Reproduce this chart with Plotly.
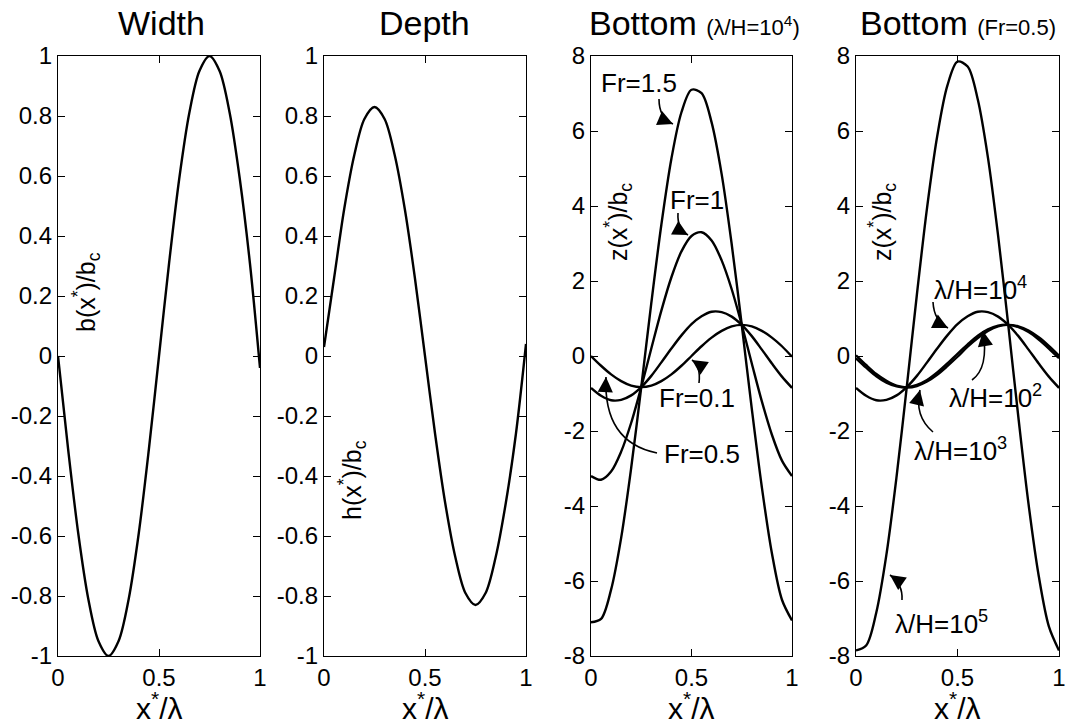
import plotly.graph_objects as go

# ---------------- data ----------------
x_star = [0.00, 0.05, 0.10, 0.15, 0.20, 0.25, 0.30, 0.35, 0.40, 0.45, 0.50,
          0.55, 0.60, 0.65, 0.70, 0.75, 0.80, 0.85, 0.90, 0.95, 1.00]

width_b = [0.00, -0.31, -0.59, -0.81, -0.95, -1.00, -0.95, -0.81, -0.59, -0.31, 0.00,
           0.31, 0.59, 0.81, 0.95, 1.00, 0.95, 0.81, 0.59, 0.31, -0.04]

depth_h = [0.03, 0.26, 0.49, 0.67, 0.79, 0.83, 0.79, 0.67, 0.49, 0.26, 0.00,
           -0.26, -0.49, -0.67, -0.79, -0.83, -0.79, -0.67, -0.49, -0.26, 0.04]

# Bottom, lambda/H = 1e4, various Froude numbers
bottom_fr01 = [0.00, -0.26, -0.49, -0.67, -0.79, -0.83, -0.79, -0.67, -0.49, -0.26, 0.00,
               0.26, 0.49, 0.67, 0.79, 0.83, 0.79, 0.67, 0.49, 0.26, -0.02]
bottom_fr05 = [-0.85, -1.06, -1.18, -1.17, -1.05, -0.83, -0.53, -0.17, 0.20, 0.55, 0.85,
               1.06, 1.18, 1.17, 1.05, 0.83, 0.53, 0.17, -0.20, -0.55, -0.85]
bottom_fr10 = [-3.20, -3.30, -3.08, -2.55, -1.78, -0.83, 0.20, 1.21, 2.10, 2.79, 3.20,
               3.30, 3.08, 2.55, 1.78, 0.83, -0.20, -1.21, -2.10, -2.79, -3.20]
bottom_fr15 = [-7.10, -7.01, -6.23, -4.85, -2.98, -0.83, 1.41, 3.50, 5.26, 6.50, 7.10,
               7.01, 6.23, 4.85, 2.98, 0.83, -1.41, -3.50, -5.26, -6.50, -7.05]

# Bottom, Fr = 0.5, various lambda/H
bottom_lh2 = [0.02, -0.24, -0.48, -0.66, -0.79, -0.84, -0.80, -0.68, -0.50, -0.27, -0.02,
              0.25, 0.48, 0.67, 0.79, 0.83, 0.79, 0.68, 0.50, 0.27, 0.01]
bottom_lh3 = [-0.06, -0.31, -0.54, -0.71, -0.81, -0.83, -0.77, -0.64, -0.44, -0.20, 0.06,
              0.31, 0.54, 0.71, 0.81, 0.83, 0.77, 0.64, 0.44, 0.20, -0.06]
bottom_lh4 = bottom_fr05
bottom_lh5 = [-7.85, -7.72, -6.84, -5.29, -3.21, -0.83, 1.64, 3.95, 5.86, 7.21, 7.85,
              7.72, 6.84, 5.29, 3.21, 0.83, -1.64, -3.95, -5.86, -7.21, -7.85]

x_tickvals = [0, 0.5, 1]
x_ticktext = ["0", "0.5", "1"]
unit_tickvals = [-1, -0.8, -0.6, -0.4, -0.2, 0, 0.2, 0.4, 0.6, 0.8, 1]
unit_ticktext = ["-1", "-0.8", "-0.6", "-0.4", "-0.2", "0", "0.2", "0.4", "0.6", "0.8", "1"]
bed_tickvals = [-8, -6, -4, -2, 0, 2, 4, 6, 8]
bed_ticktext = ["-8", "-6", "-4", "-2", "0", "2", "4", "6", "8"]

panel_titles = ["Width", "Depth",
                "Bottom <span style='font-size:22px'>(λ/H=10<sup>4</sup>)</span>",
                "Bottom <span style='font-size:22px'>(Fr=0.5)</span>"]
y_titles = ["b(x<sup>*</sup>)/b<sub>c</sub>", "h(x<sup>*</sup>)/b<sub>c</sub>",
            "z(x<sup>*</sup>)/b<sub>c</sub>", "z(x<sup>*</sup>)/b<sub>c</sub>"]
x_title = "x<sup>*</sup>/λ"

# ---------------- layout geometry (pixels in a 1080x724 page) ----------------
W, H = 1080, 724
TOP, BOT = 56, 656
panels_px = [(58, 260), (324, 526), (591, 792), (856, 1059)]
yranges = [(-1, 1), (-1, 1), (-8, 8), (-8, 8)]
FONT = "Liberation Sans, Arial, Helvetica, sans-serif"

fig = go.Figure()
line = dict(color="black", width=2.4, shape="spline", smoothing=0.9)

series = [
    (1, [width_b]),
    (2, [depth_h]),
    (3, [bottom_fr01, bottom_fr05, bottom_fr10, bottom_fr15]),
    (4, [bottom_lh2, bottom_lh3, bottom_lh4, bottom_lh5]),
]
for idx, ys in series:
    for yv in ys:
        fig.add_trace(go.Scatter(x=x_star, y=yv, mode="lines", line=line,
                                 xaxis="x" if idx == 1 else f"x{idx}",
                                 yaxis="y" if idx == 1 else f"y{idx}",
                                 showlegend=False, hoverinfo="skip"))

ax_common = dict(showgrid=False, zeroline=False, showline=True, linecolor="black",
                 linewidth=1.2, mirror="ticks", ticks="inside", ticklen=7,
                 tickwidth=1, tickcolor="black", automargin=False,
                 tickfont=dict(family=FONT, size=24, color="black"))
for i in range(4):
    n = "" if i == 0 else str(i + 1)
    l, r = panels_px[i]
    lo, hi = yranges[i]
    tv, tt = (unit_tickvals, unit_ticktext) if i < 2 else (bed_tickvals, bed_ticktext)
    fig.update_layout(**{
        f"xaxis{n}": dict(ax_common, domain=[l / W, r / W], range=[0, 1],
                          tickvals=x_tickvals, ticktext=x_ticktext,
                          anchor=f"y{n}"),
        f"yaxis{n}": dict(ax_common, domain=[1 - BOT / H, 1 - TOP / H], range=[lo, hi],
                          tickvals=tv, ticktext=tt, anchor=f"x{n}"),
    })


def to_data(i, px, py):
    l, r = panels_px[i]
    lo, hi = yranges[i]
    return (px - l) / (r - l), hi - (py - TOP) / (BOT - TOP) * (hi - lo)


annotations = []
shapes = []

# panel titles
title_px = [(161, 23), (424, 23), (694, 23), (958, 23)]
for (cx, cy), t in zip(title_px, panel_titles):
    annotations.append(dict(x=cx / W, y=1 - cy / H, xref="paper", yref="paper",
                            text=t, showarrow=False, xanchor="center", yanchor="middle",
                            font=dict(family=FONT, size=34, color="black")))
# x titles
for l, r in panels_px:
    annotations.append(dict(x=(l + r) / 2 / W, y=1 - 706 / H, xref="paper", yref="paper",
                            text=x_title, showarrow=False, xanchor="center",
                            yanchor="middle",
                            font=dict(family=FONT, size=30, color="black")))
# y titles (inside the axes)
ytitle_px = [(86, 292), (352, 480), (618, 222), (882, 222)]
for (cx, cy), t in zip(ytitle_px, y_titles):
    annotations.append(dict(x=cx / W, y=1 - cy / H, xref="paper", yref="paper",
                            text=t, showarrow=False, textangle=-90,
                            xanchor="center", yanchor="middle",
                            font=dict(family=FONT, size=25, color="black")))

# curve labels: (panel index, text, text centre, tail, control, tip) in pixels
labels = [
    (2, "Fr=1.5", (639, 83), (659, 99), (659, 118), (673, 124)),
    (2, "Fr=1", (697, 200), (678, 213), (677, 229), (688, 235)),
    (2, "Fr=0.1", (697, 398), (699, 383), (701, 366), (692, 360)),
    (2, "Fr=0.5", (702, 454), (657, 453), (603, 442), (606, 377)),
    (3, "λ/H=10<sup>4</sup>", (980, 289), (933, 302), (934, 321), (948, 328)),
    (3, "λ/H=10<sup>2</sup>", (995, 396), (972, 380), (989, 368), (983, 331)),
    (3, "λ/H=10<sup>3</sup>", (960, 449), (933, 432), (914, 416), (920, 390)),
    (3, "λ/H=10<sup>5</sup>", (941, 622), (902, 600), (903, 584), (890, 575)),
]
for i, txt, (tx, ty), tail, ctrl, tip in labels:
    xr, yr = f"x{i + 1}", f"y{i + 1}"
    annotations.append(dict(x=tx / W, y=1 - ty / H, xref="paper", yref="paper",
                            text=txt, showarrow=False, xanchor="center",
                            yanchor="middle",
                            font=dict(family=FONT, size=26, color="black")))
    p0 = to_data(i, *tail)
    pc = to_data(i, *ctrl)
    p1 = to_data(i, *tip)
    shapes.append(dict(type="path", xref=xr, yref=yr,
                       path=f"M {p0[0]},{p0[1]} Q {pc[0]},{pc[1]} {p1[0]},{p1[1]}",
                       line=dict(color="black", width=1.6)))
    dx, dy = ctrl[0] - tip[0], ctrl[1] - tip[1]
    norm = (dx * dx + dy * dy) ** 0.5
    annotations.append(dict(x=p1[0], y=p1[1], xref=xr, yref=yr, text="",
                            showarrow=True, arrowhead=2, arrowsize=1.9,
                            arrowwidth=1.6, arrowcolor="black", standoff=0,
                            ax=dx / norm * 10, ay=dy / norm * 10))

fig.update_layout(width=W, height=H, margin=dict(l=0, r=0, t=0, b=0),
                  paper_bgcolor="white", plot_bgcolor="white",
                  annotations=annotations, shapes=shapes, showlegend=False,
                  font=dict(family=FONT, color="black"))

fig.write_html("out.html", config={"displayModeBar": False},
               post_script="document.body.style.margin='0';"
                           "document.body.style.overflow='hidden';")
